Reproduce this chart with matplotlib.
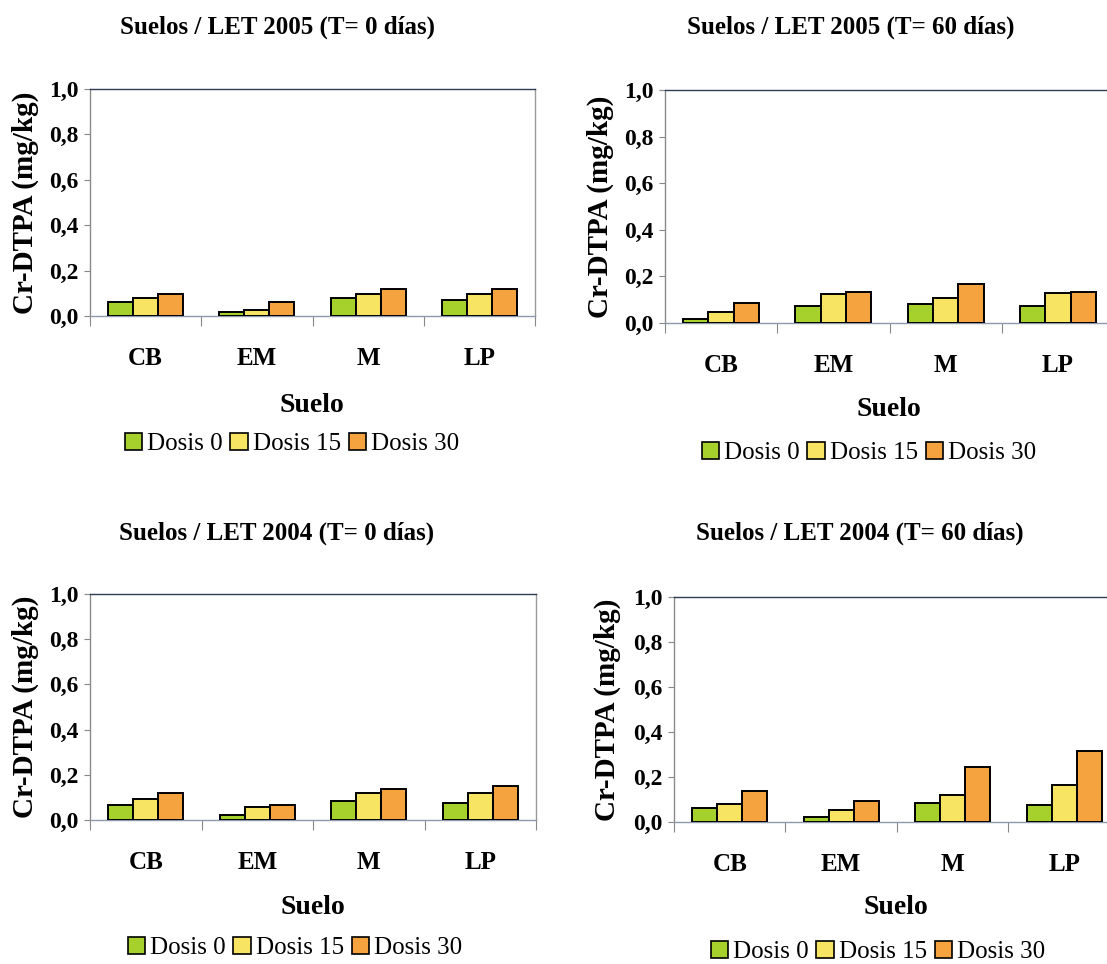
import numpy as np
import matplotlib.pyplot as plt
from matplotlib.patches import Patch

plt.rcParams['font.family'] = ['Liberation Serif', 'DejaVu Serif']

# Categories and series
suelos = ['CB', 'EM', 'M', 'LP']
dosis = ['Dosis 0', 'Dosis 15', 'Dosis 30']
colores = ['#A6D12C', '#F6E462', '#F5A33E']

# Cr-DTPA (mg/kg), one list per dose (Dosis 0, 15, 30), values for CB, EM, M, LP
let2005_t0 = [[0.063, 0.016, 0.081, 0.072],
              [0.081, 0.027, 0.097, 0.099],
              [0.099, 0.063, 0.117, 0.117]]
let2005_t60 = [[0.017, 0.071, 0.083, 0.074],
               [0.046, 0.124, 0.107, 0.127],
               [0.087, 0.132, 0.167, 0.134]]
let2004_t0 = [[0.068, 0.022, 0.084, 0.075],
              [0.093, 0.056, 0.119, 0.119],
              [0.119, 0.066, 0.138, 0.150]]
let2004_t60 = [[0.064, 0.021, 0.083, 0.075],
               [0.081, 0.055, 0.120, 0.166],
               [0.136, 0.092, 0.244, 0.317]]

titulos = ['Suelos / LET 2005 (T= 0 días)', 'Suelos / LET 2005 (T= 60 días)',
           'Suelos / LET 2004 (T= 0 días)', 'Suelos / LET 2004 (T= 60 días)']
yticks = [0.0, 0.2, 0.4, 0.6, 0.8, 1.0]
ytick_labels = ['0,0', '0,2', '0,4', '0,6', '0,8', '1,0']

W, H = 1107, 964
fig = plt.figure(figsize=(W / 100, H / 100), dpi=100)

# pixel layout: axes box, title pos, ylabel x, xlabel pos, legend pos
layout = [
    ((90, 89, 535, 316), (277, 27), 25, (312, 405), (292, 444)),
    ((665, 90, 1114, 323), (851, 27), 600, (889, 410), (869, 453)),
    ((90, 594, 536, 820), (277, 533), 25, (313, 907), (295, 948)),
    ((674, 597, 1120, 822), (860, 533), 607, (896, 908), (878, 952)),
]
datos = [let2005_t0, let2005_t60, let2004_t0, let2004_t60]

x = np.arange(len(suelos))
w = 0.225
for data, titulo, (box, tpos, ylx, xlpos, lpos) in zip(datos, titulos, layout):
    x0, y0, x1, y1 = box
    ax = fig.add_axes([x0 / W, 1 - y1 / H, (x1 - x0) / W, (y1 - y0) / H])
    for i in range(3):
        ax.bar(x + (i - 1) * w, data[i], w, color=colores[i],
               edgecolor='black', linewidth=1.4, zorder=3)
    ax.set_xlim(-0.5, 3.5)
    ax.set_ylim(0, 1.0)
    ax.set_yticks(yticks)
    ax.set_yticklabels(ytick_labels, fontsize=17, fontweight='bold')
    ax.tick_params(axis='y', length=4, color='#888888', pad=4)
    # ticks between categories, labels at centers
    ax.set_xticks(np.arange(-0.5, 4, 1))
    ax.set_xticklabels([])
    ax.tick_params(axis='x', which='major', length=7, color='#888888')
    ax.set_xticks(x, minor=True)
    ax.set_xticklabels(suelos, minor=True, fontsize=18, fontweight='bold')
    ax.tick_params(axis='x', which='minor', length=0, pad=22)
    ax.spines['top'].set_color('#2E3B55')
    ax.spines['left'].set_color('#8A8A8A')
    ax.spines['right'].set_color('#9A9A9A')
    ax.spines['bottom'].set_color('#8C9AAC')
    for s in ax.spines.values():
        s.set_linewidth(1.0)

    fig.text(tpos[0] / W, 1 - tpos[1] / H, titulo, ha='center', va='center',
             fontsize=18, fontweight='bold')
    fig.text(ylx / W, 1 - (y0 + y1) / 2 / H, 'Cr-DTPA (mg/kg)', rotation=90,
             ha='center', va='center', fontsize=21, fontweight='bold')
    fig.text(xlpos[0] / W, 1 - xlpos[1] / H, 'Suelo', ha='center', va='center',
             fontsize=20, fontweight='bold')
    handles = [Patch(facecolor=colores[i], edgecolor='black', linewidth=1.2, label=dosis[i])
               for i in range(3)]
    ax.legend(handles=handles, loc='center', bbox_to_anchor=(lpos[0] / W, 1 - lpos[1] / H),
              bbox_transform=fig.transFigure, ncol=3, frameon=False, fontsize=18,
              handlelength=0.7, handleheight=0.7, handletextpad=0.2,
              columnspacing=0.3, borderpad=0)

fig.savefig('out.png', dpi=100)
